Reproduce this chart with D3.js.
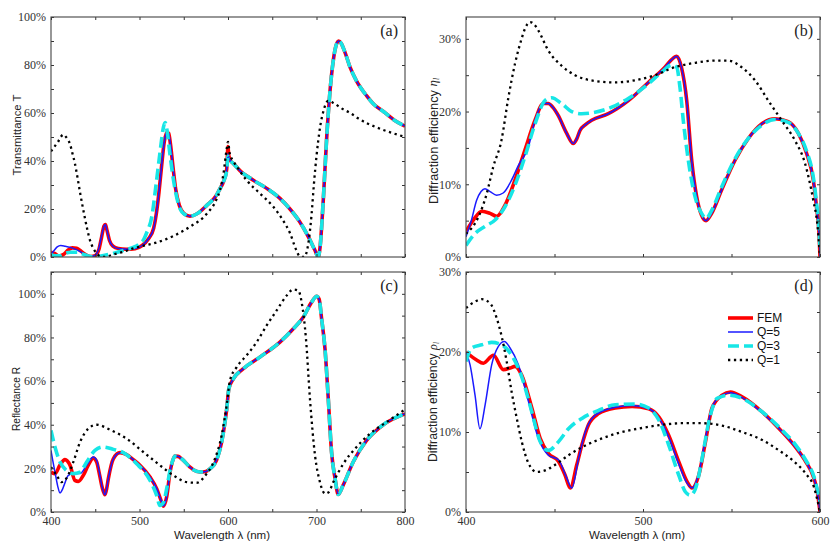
<!DOCTYPE html>
<html><head><meta charset="utf-8">
<script src="https://cdnjs.cloudflare.com/ajax/libs/d3/7.8.5/d3.min.js"></script>
<style>body{margin:0;background:#fff}svg{display:block}</style>
</head><body><svg id="c" width="831" height="545"></svg>
<script>
// ---------- DATA (wavelength nm, value %) ----------
const seriesNames = ["FEM","Q=5","Q=3","Q=1"];
const xTicksWide = [400,500,600,700,800];
const xTicksNarrow = [400,500,600];

// (a) Transmittance T
const T_FEM = [[400,2],[404,1.5],[409,0.4],[414,1],[419,2.8],[424,3.8],[429,3.6],[434,2.4],[440,0.8],[445,0.2],[450,0.6],[454,3],[457,8],[460,13],[461.5,13.5],[463,11.5],[466,7],[470,4.5],[476,3.5],[485,3.2],[495,3.5],[503,4.8],[510,7.5],[516,12],[519,18],[522,27],[525,38],[528,48],[531,52],[533,51.5],[535,47],[538,37],[541,28],[545,21.5],[550,18.2],[557,17],[565,18],[576,21.5],[587,25.8],[591,28.5],[595,31.5],[598.5,36.5],[600,46],[601,42],[603,40],[606,39],[613.5,36],[628.6,32],[643.7,28.6],[658.7,24.4],[670,20],[681,14.7],[690.7,8.5],[698,3],[702,0],[704,4],[707.7,24],[711.4,49],[715,68],[719,82],[722,88],[725,90],[728,89],[732,85.5],[738,79],[745,73.5],[757,67],[765,63.5],[776,60.5],[788,57],[800,54.5]];
const T_Q5 = [[400,1],[403,2.5],[407,4.2],[411,4.8],[416,4.5],[422,4],[428,3.2],[434,2],[440,0.8],[445,0.2],[450,0.8],[454,3.5],[457,8.5],[460,13],[461.5,13.5],[463,11.5],[466,7],[470,4.5],[476,3.5],[485,3.2],[495,3.5],[503,4.8],[510,7.5],[516,12],[519,18],[522,27],[525,38],[528,48],[531,52],[533,51.5],[535,47],[538,37],[541,28],[545,21.5],[550,18.2],[557,17],[565,18],[576,21.5],[587,25.8],[591,28.5],[595,31.5],[598.5,36.5],[600,43],[601,41.5],[603,40],[606,39],[613.5,36],[628.6,32],[643.7,28.6],[658.7,24.4],[670,20],[681,14.7],[690.7,8.5],[698,3],[702,0],[704,4],[707.7,24],[711.4,49],[715,68],[719,82],[722,88],[725,90],[728,89],[732,85.5],[738,79],[745,73.5],[757,67],[765,63.5],[776,60.5],[788,57],[800,54.5]];
const T_Q3 = [[400,1],[405,0.5],[410,0.5],[416,1.5],[422,2],[430,2],[436,1.2],[442,0.4],[448,0],[455,0.3],[462,0.8],[470,1.5],[478,2.3],[486,3.2],[493,4],[500,5.5],[505,7.5],[508,10],[514,17],[519,31],[524,46],[527,54],[529,56],[531,53],[534,44],[538,33],[542,25],[546,20],[551,17.8],[557,17],[565,18],[576,21.5],[587,25.8],[591,28.5],[595,31.5],[598.5,36],[600,42],[602,40.5],[606,39],[613.5,36],[628.6,32],[643.7,28.6],[658.7,24.4],[670,20],[681,14.7],[690.7,8.5],[698,3],[702,0],[704,4],[707.7,24],[711.4,49],[715,68],[719,82],[722,88],[725,90],[728,89],[732,85.5],[738,79],[745,73.5],[757,67],[765,63.5],[776,60.5],[788,57],[800,54.5]];
const T_Q1 = [[400,44],[404,46],[408,48],[411,50],[414,51],[417,50],[421.5,47],[424,43.5],[427,39],[430,33],[433,26.5],[435.5,21.5],[438,16.8],[441,11.5],[444,7],[447.5,3.8],[451.6,1.5],[455,0.4],[459,0],[464,0.3],[470,1],[482,2.2],[493,3.6],[506,4.8],[519,6],[538,8.7],[557,12.6],[576,18],[587,24],[591,28],[595,35],[598.5,45],[600,48],[602,43],[606,40],[613,36],[621,32],[636,26.5],[651,21],[662,15.4],[670,10],[677,3],[681,0.3],[686,0],[690,4],[694.5,18],[697,30],[700,42],[704,54],[708,61],[713,65],[720,64],[728,62],[738,60],[747,57.8],[757,55.7],[766,54.3],[775,53],[787,51.5],[800,50]];

// (b) Diffraction efficiency eta
const ETA_FEM = [[400,3.5],[404.5,5.2],[408.9,6.3],[413.6,6],[417.3,5.6],[422,7.1],[427.7,10.6],[433.3,14.7],[439,18.8],[443.7,21.1],[446.5,21.1],[449,20.6],[452,19.5],[456.9,17],[460.6,15.6],[462.5,16.2],[464.4,17.4],[467.5,18.2],[471,18.8],[480.4,19.7],[491.7,21.5],[503,24],[512.4,26.1],[516,27.1],[519,27.6],[521.8,26],[524.7,21.5],[527.5,13.3],[530.3,8.3],[533,5.8],[535.6,5],[538.8,6],[544.4,9.2],[552,13.3],[559.5,16.3],[567,18.3],[574.6,19],[582,18.6],[587.8,17],[592.5,14.2],[596.2,10.6],[598,6.9],[599.6,2.5],[600,0]];
const ETA_Q5 = [[400,2.8],[403,5],[406,7.8],[408.5,9],[410.7,9.4],[413.6,9],[417.3,8.5],[421,8.8],[425.8,10.6],[429.6,12.6],[435.2,15.1],[439,18.8],[443.7,21.1],[446.5,21.1],[449,20.6],[452,19.5],[456.9,17],[460.6,15.6],[462.5,16.2],[464.4,17.4],[467.5,18.2],[471,18.8],[480.4,19.7],[491.7,21.5],[503,24],[512.4,26.1],[516,27.1],[519,27.6],[521.8,26],[524.7,21.5],[527.5,13.3],[530.3,8.3],[533,5.8],[535.6,5],[538.8,6],[544.4,9.2],[552,13.3],[559.5,16.3],[567,18.3],[574.6,19],[582,18.6],[587.8,17],[592.5,14.2],[596.2,10.6],[598,6.9],[599.6,2.5],[600,0]];
const ETA_Q3 = [[400,1.6],[405,3.2],[410.7,4.2],[416.4,5.1],[422,6.9],[427.7,9.9],[433.3,13.8],[439,18.3],[444.6,21.5],[448.4,21.9],[454,21.1],[459.7,20],[465.3,19.7],[472.9,19.9],[482.3,20.6],[491.7,21.8],[503,23.8],[510.5,25.4],[516.2,26.4],[519,26.1],[520.9,23.3],[522.8,18.7],[525.6,13.3],[529.4,8.3],[533.1,6],[535.6,5.3],[538.8,6.4],[544.4,9.6],[552,13.5],[559.5,16.3],[567,18.1],[574.6,18.9],[582,18.5],[587.8,17],[592.5,14.5],[596.2,11],[598,7.5],[599.6,3],[600,1]];
const ETA_Q1 = [[400,3.2],[407,5.5],[411.7,8.7],[415.4,12.4],[420,16],[424,22],[427.7,26.6],[431.4,30],[433.5,31.5],[436.2,32.3],[438.5,32],[441,31.1],[446.5,28.4],[454,26.3],[461.6,25],[472.9,24.2],[484,24],[495.5,24.3],[506.8,25],[518,26.1],[529.4,26.7],[540.7,27],[548.2,27],[555.7,26.1],[563.3,24.3],[570.8,21.5],[578.3,18.8],[585.9,16],[591.5,12.9],[596.2,7.8],[598.5,4.5],[600,0]];

// (c) Reflectance R
const R_FEM = [[400,18.3],[404.5,17.5],[410,21.4],[415.8,24],[421.5,21.4],[427,14.5],[430.9,14],[436.5,16.8],[442,21.4],[447.8,24.7],[451.6,22.9],[455,16.8],[458,11],[461,7.9],[462.8,10.5],[464.8,15.3],[470.4,24.4],[478,27.2],[485.5,26.3],[493,24],[500.5,21.4],[511.9,16],[519.4,10.7],[525,4.6],[527,2.7],[530.7,6.9],[534.5,18.3],[537.5,23.5],[540,25.6],[543.5,25.5],[547.6,24.4],[557,20.6],[560.8,19.4],[568.3,18.3],[575,18.6],[579.6,19.8],[587,23.7],[592.8,32],[596.6,41.2],[598.5,47],[601,56.5],[606,61],[617,65.6],[636,71],[658.7,77.9],[673.8,84],[685,89.3],[694.5,96.2],[700.2,98.9],[703,97.5],[705.8,88.5],[709.6,74.8],[713.3,52],[717,27.5],[721,15.3],[724.6,8],[730,12.2],[741.6,23],[756.6,32.8],[775.5,40],[800,45]];
const R_Q5 = [[400,28.2],[402,23.5],[404.5,18.3],[407.5,12],[410.2,8.7],[412.5,10],[414.7,12.2],[419.6,16.8],[425.2,17.6],[432.8,17.6],[440.3,21.4],[447.8,25.2],[451.6,23.7],[455,17.5],[458,11],[461,7.9],[462.8,10.5],[464.8,15.3],[470.4,24.4],[478,27.2],[485.5,26.3],[493,24],[500.5,21.4],[511.9,16],[519.4,10.7],[525,4.6],[527,2.7],[530.7,6.9],[534.5,18.3],[537.5,23.5],[540,25.6],[543.5,25.5],[547.6,24.4],[557,20.6],[560.8,19.4],[568.3,18.3],[575,18.6],[579.6,19.8],[587,23.7],[592.8,32],[596.6,41.2],[598.5,47],[601,56.5],[606,61],[617,65.6],[636,71],[658.7,77.9],[673.8,84],[685,89.3],[694.5,96.2],[700.2,98.9],[703,97.5],[705.8,88.5],[709.6,74.8],[713.3,52],[717,27.5],[721,15.3],[724.6,8],[730,12.2],[741.6,23],[756.6,32.8],[775.5,40],[800,45]];
const R_Q3 = [[400,37.4],[404.5,29.8],[410.2,22.9],[417.7,19],[425.2,17.6],[432.8,18.3],[440.3,22.9],[449.7,28.2],[459,29.8],[470.4,28.7],[481.7,27.2],[496.8,22.1],[511.9,14.5],[519.4,7.6],[523,3],[527,4.3],[530.7,10.7],[534.5,19],[537.5,23.5],[540,25.6],[543.5,25.5],[547.6,24.4],[557,20.6],[560.8,19.4],[568.3,18.3],[575,18.6],[579.6,19.8],[587,23.7],[592.8,32],[596.6,41.2],[598.5,47],[601,56.5],[606,61],[617,65.6],[636,71],[658.7,77.9],[673.8,84],[685,89.3],[694.5,96.2],[700.2,98.9],[703,97.5],[705.8,88.5],[709.6,74.8],[713.3,52],[717,27.5],[721,15.3],[724.6,8],[730,12.2],[741.6,23],[756.6,32.8],[775.5,40],[800,45]];
const R_Q1 = [[400,20.6],[406.4,16.8],[412,13.7],[417.7,15.6],[425.2,22.9],[432.8,32],[442.2,38.2],[451.6,40],[466.7,37.7],[485.5,33.6],[504.3,27.5],[523.1,21.4],[538.2,16.8],[553.3,13.7],[564.6,13.4],[575.9,17.6],[585.3,24.4],[592.8,35.1],[598.5,48.9],[602.2,60.3],[609.8,66.4],[621.1,71.8],[632.4,77.9],[643.7,85.5],[655,92.4],[666.3,99.2],[673.8,102],[679.5,101.5],[683.2,96.2],[688.1,79.4],[692.6,51.9],[698.3,26],[703.9,13.7],[709.6,8.4],[713.3,8.9],[719,13.7],[730.3,22.1],[745.3,29.8],[760.4,35.9],[779.2,41.2],[800,47]];

// (d) Diffraction efficiency rho
const RHO_FEM = [[400,20],[406,19],[409.8,18.6],[415.5,19.6],[421.1,17.8],[424.9,18],[427.7,18.2],[431.5,17.1],[437.2,13],[441.9,9.2],[446.6,7.3],[452.3,6.3],[456,4.6],[458.9,3],[462.6,5.9],[465.5,8.4],[469.2,10.9],[474.9,12.3],[484.3,13],[493.8,13.2],[503.2,12.9],[508.9,11.9],[514.5,9.6],[520.2,6.3],[524.9,3.8],[527.7,3],[531.5,4.6],[535.3,8.8],[539,13],[544.7,14.6],[549.4,15],[556,14.4],[567.4,12.5],[578.7,10],[586.2,8.1],[591.9,6.3],[596.6,4.2],[598.5,2.5],[600,0]];
const RHO_Q5 = [[400,20],[402.3,18.4],[405.1,14.6],[407.9,10.4],[410.8,13.4],[414.5,18.4],[418.3,20.7],[421.7,21.3],[424.9,20.5],[429.6,18.4],[435.3,13.8],[440.9,9.2],[446.6,7.1],[452.3,6.5],[457,4.2],[459.8,3],[463.6,6.7],[467.4,10],[473,12.1],[484.3,13.1],[493.8,13.3],[503.2,12.9],[508.9,11.8],[514.5,9.4],[520.2,6],[524.9,3.6],[527.7,3],[531.5,4.8],[535.3,9.2],[539,13.1],[544.7,14.6],[549.4,14.9],[556,14.3],[567.4,12.4],[578.7,10],[586.2,8.1],[591.9,6.3],[596.6,4.2],[598.5,2.5],[600,0]];
const RHO_Q3 = [[400,18.8],[403.2,20.5],[408.9,20.9],[414.5,21.2],[420.2,20.9],[425.8,19.6],[431.5,16.9],[437.2,12.5],[441.9,8.8],[446.6,7.7],[452.3,8.8],[457.9,10.4],[465.5,11.7],[474.9,12.7],[484.3,13.4],[495.7,13.5],[503.2,13],[508.9,11.5],[514.5,8.4],[520.2,4.6],[524,2.5],[526.8,2.1],[529.6,2.9],[533.4,6.7],[537.2,11.3],[541.9,14.2],[548.5,14.6],[556,14.2],[567.4,12.5],[578.7,10.2],[586.2,8.4],[591.9,6.5],[596.6,4.4],[600,1.3]];
const RHO_Q1 = [[400,25.5],[405.1,26.3],[408.9,26.6],[413.6,26.1],[417.4,24.2],[420.2,21.9],[423,18.8],[425.8,15],[428.7,11.7],[431.5,8.8],[435.3,6.1],[440,5],[444.7,5.2],[450.4,5.9],[457.9,7.1],[465.5,8.1],[476.8,9.2],[488.1,10],[499.4,10.5],[510.8,10.9],[522.1,11.1],[533.4,11.1],[544.7,10.8],[556,10],[567.4,9],[576.8,7.7],[584.3,6.5],[591.9,4.8],[596.6,3.1],[600,0]];

// ---------- LAYOUT / STYLE ----------
const styles = {
  "FEM": {color:"#ff0000", width:3.6, dash:null},
  "Q=5": {color:"#1a1aff", width:1.5, dash:null},
  "Q=3": {color:"#17e6e6", width:3.6, dash:"11,5"},
  "Q=1": {color:"#000000", width:2.3, dash:"2.3,3.6"}
};
const panels = [
  {label:"(a)", x0:51, x1:405, y0:17, y1:257, xd:[400,800], yd:[0,100], yLab:[0,20,40,60,80,100], yMin:d3.range(0,101,10), xLab:false, xt:xTicksWide,
   series:[T_FEM,T_Q5,T_Q3,T_Q1], title:{text:"Transmittance T", x:17, y:135, size:11.3}},
  {label:"(b)", x0:466, x1:820, y0:17, y1:257, xd:[400,600], yd:[0,33], yLab:[0,10,20,30], yMin:d3.range(0,33,5), xLab:false, xt:xTicksNarrow,
   series:[ETA_FEM,ETA_Q5,ETA_Q3,ETA_Q1], title:{text:"Diffraction efficiency ", greek:"η", x:433, y:141, size:12.8}},
  {label:"(c)", x0:51, x1:405, y0:272, y1:512, xd:[400,800], yd:[0,110], yLab:[0,20,40,60,80,100], yMin:d3.range(0,111,10), xLab:true, xt:xTicksWide,
   series:[R_FEM,R_Q5,R_Q3,R_Q1], title:{text:"Reflectance R", x:16, y:399, size:10.2}},
  {label:"(d)", x0:466, x1:820, y0:272, y1:512, xd:[400,600], yd:[0,30], yLab:[0,10,20,30], yMin:d3.range(0,31,5), xLab:true, xt:xTicksNarrow,
   series:[RHO_FEM,RHO_Q5,RHO_Q3,RHO_Q1], title:{text:"Diffraction efficiency ", greek:"ρ", x:433, y:402, size:12.2}, legend:true}
];

const svg = d3.select("#c");
const SERIF = "'Liberation Serif','Times New Roman',serif";
const SANS = "'Liberation Sans',Arial,sans-serif";

panels.forEach((p,i)=>{
  const x = d3.scaleLinear().domain(p.xd).range([p.x0,p.x1]);
  const y = d3.scaleLinear().domain(p.yd).range([p.y1,p.y0]);
  const clipId = "clip"+i;
  svg.append("clipPath").attr("id",clipId).append("rect")
    .attr("x",p.x0).attr("y",p.y0).attr("width",p.x1-p.x0).attr("height",p.y1-p.y0);

  const line = d3.line().x(d=>x(d[0])).y(d=>y(d[1])).curve(d3.curveMonotoneX);
  const g = svg.append("g").attr("clip-path",`url(#${clipId})`);
  p.series.forEach((s,k)=>{
    const st = styles[seriesNames[k]];
    g.append("path").datum(s).attr("d",line).attr("fill","none")
      .attr("stroke",st.color).attr("stroke-width",st.width)
      .attr("stroke-dasharray",st.dash).attr("stroke-linejoin","round");
  });

  const xMinor = d3.range(p.xd[0], p.xd[1]+1, 50);
  const styleAxis = sel => {
    sel.select(".domain").remove();
    sel.selectAll("line").attr("stroke","#333");
    sel.selectAll("text").attr("font-family",SERIF).attr("font-size",12).attr("fill","#333");
  };
  // ticks inward on all sides
  svg.append("g").attr("transform",`translate(0,${p.y1})`)
    .call(d3.axisBottom(x).tickValues(xMinor).tickSizeInner(-3).tickSizeOuter(0).tickPadding(4)
      .tickFormat(d => (p.xLab && p.xt.includes(d)) ? d : ""))
    .call(styleAxis);
  svg.append("g").attr("transform",`translate(0,${p.y0})`)
    .call(d3.axisTop(x).tickValues(xMinor).tickSizeInner(-3).tickSizeOuter(0).tickFormat(""))
    .call(styleAxis);
  svg.append("g").attr("transform",`translate(${p.x0},0)`)
    .call(d3.axisLeft(y).tickValues(p.yMin).tickSizeInner(-3).tickSizeOuter(0).tickPadding(5)
      .tickFormat(d => p.yLab.includes(d) ? d+"%" : ""))
    .call(styleAxis);
  svg.append("g").attr("transform",`translate(${p.x1},0)`)
    .call(d3.axisRight(y).tickValues(p.yMin).tickSizeInner(-3).tickSizeOuter(0).tickFormat(""))
    .call(styleAxis);

  svg.append("rect").attr("x",p.x0).attr("y",p.y0).attr("width",p.x1-p.x0).attr("height",p.y1-p.y0)
    .attr("fill","none").attr("stroke","#444").attr("stroke-width",1.1);

  svg.append("text").attr("x",p.x1-7).attr("y",p.y0+19).attr("text-anchor","end")
    .attr("font-family",SERIF).attr("font-size",16).attr("fill","#222").text(p.label);

  const t = p.title;
  const tt = svg.append("text").attr("transform",`translate(${t.x},${t.y}) rotate(-90)`)
    .attr("text-anchor","middle").attr("dominant-baseline","central")
    .attr("font-family",SANS).attr("font-size",t.size).attr("fill","#222");
  tt.append("tspan").text(t.text);
  if (t.greek) {
    tt.append("tspan").attr("font-family",SERIF).attr("font-style","italic").text(t.greek);
    tt.append("tspan").attr("font-family",SERIF).attr("font-style","italic").attr("font-size",t.size*0.6).attr("dy",3).text("l");
  }

  if (p.xLab) {
    svg.append("text").attr("x",(p.x0+p.x1)/2-6).attr("y",539).attr("text-anchor","middle")
      .attr("font-family",SANS).attr("font-size",11.5).attr("fill","#222").text("Wavelength λ (nm)");
  }

  if (p.legend) {
    const lg = svg.append("g");
    seriesNames.forEach((n,k)=>{
      const st = styles[n];
      const yy = 318 + k*14;
      lg.append("line").attr("x1",728).attr("x2",753).attr("y1",yy).attr("y2",yy)
        .attr("stroke",st.color).attr("stroke-width",st.width).attr("stroke-dasharray",st.dash);
      lg.append("text").attr("x",757).attr("y",yy).attr("dominant-baseline","central")
        .attr("font-family",SANS).attr("font-size",12).attr("fill","#111").text(n);
    });
  }
});
</script></body></html>
